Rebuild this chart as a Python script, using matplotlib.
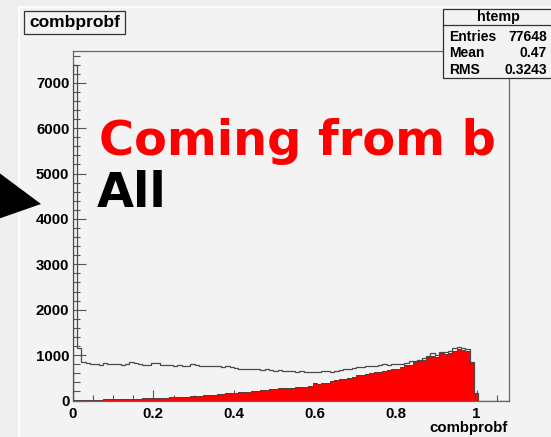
import matplotlib
matplotlib.use("Agg")
import matplotlib.pyplot as plt
from matplotlib.patches import Rectangle, Polygon
from matplotlib.lines import Line2D
import numpy as np

# ---- data ----
n_bins = 100
x_range = (0.0, 1.08)

all_counts = [7390, 1150, 840, 830, 815, 800, 790, 825, 800, 795,
              795, 790, 800, 855, 830, 800, 785, 790, 830, 820,
              790, 785, 780, 770, 775, 765, 770, 805, 790, 770,
              765, 770, 760, 750, 745, 750, 730, 715, 705, 700,
              695, 700, 690, 680, 685, 670, 660, 665, 650, 640,
              650, 630, 640, 625, 630, 620, 625, 650, 640, 630,
              655, 670, 690, 700, 720, 745, 740, 760, 750, 770,
              790, 800, 790, 810, 800, 815, 830, 880, 870, 900,
              930, 980, 1040, 1010, 1075, 1060, 1080, 1160, 1185, 1150,
              1130, 840, 170, 0, 0, 0, 0, 0, 0, 0]

b_counts = [5, 15, 15, 18, 20, 20, 22, 25, 25, 28,
            30, 30, 32, 38, 40, 42, 45, 48, 50, 55,
            60, 62, 68, 72, 75, 80, 85, 95, 100, 110,
            115, 120, 125, 135, 150, 160, 158, 170, 185, 190,
            195, 200, 215, 225, 235, 245, 255, 265, 270, 280,
            285, 295, 300, 305, 330, 375, 370, 380, 395, 420,
            450, 470, 465, 490, 520, 560, 555, 575, 600, 630,
            625, 650, 680, 690, 700, 740, 780, 790, 840, 880,
            900, 950, 990, 960, 1040, 1030, 1050, 1100, 1130, 1120,
            1080, 830, 165, 0, 0, 0, 0, 0, 0, 0]

x_ticks = [0, 0.2, 0.4, 0.6, 0.8, 1]
x_tick_labels = ["0", "0.2", "0.4", "0.6", "0.8", "1"]
y_ticks = [0, 1000, 2000, 3000, 4000, 5000, 6000, 7000]
y_tick_labels = ["0", "1000", "2000", "3000", "4000", "5000", "6000", "7000"]

stats_rows = [("Entries", "77648"), ("Mean", "0.47"), ("RMS", "0.3243")]

# ---- figure ----
W, H = 551, 437
fig = plt.figure(figsize=(W / 100, H / 100), dpi=100)
fig.patch.set_facecolor("#eeeeee")
BG = "#f3f3f3"
FONT = "Liberation Sans"


def fx(x):
    return x / W


def fy(y):
    return 1 - y / H


# canvas region
fig.patches.append(Rectangle((fx(19), 0), 1 - fx(19), fy(6.7), transform=fig.transFigure,
                             facecolor=BG, edgecolor="none", zorder=-2))
fig.lines.append(Line2D([fx(19), fx(19)], [0, fy(6.7)], transform=fig.transFigure,
                        color="white", lw=1.2, zorder=-1))
fig.lines.append(Line2D([fx(19), 1], [fy(6.7), fy(6.7)], transform=fig.transFigure,
                        color="white", lw=1.2, zorder=-1))

left, right, top, bottom = 72.5, 509, 51, 400.5
ax = fig.add_axes([fx(left), fy(bottom), fx(right - left), (bottom - top) / H])
ax.set_facecolor(BG)

edges = np.linspace(x_range[0], x_range[1], n_bins + 1)
ax.stairs(b_counts, edges, fill=True, color="#ff0000", zorder=2)
ax.stairs(b_counts, edges, color="#5a3a3a", lw=0.7, zorder=2.5)
ax.stairs(all_counts, edges, color="#4a4a4a", lw=0.9, zorder=3)

ax.set_xlim(x_range)
ax.set_ylim(0, 7700)

ax.set_xticks(x_ticks)
ax.set_xticklabels(x_tick_labels)
ax.set_yticks(y_ticks)
ax.set_yticklabels(y_tick_labels)
ax.set_xticks(np.arange(0, 1.08, 0.05), minor=True)
ax.set_yticks(np.arange(0, 7700, 200), minor=True)

for lab in ax.get_xticklabels() + ax.get_yticklabels():
    lab.set_fontfamily(FONT)
    lab.set_fontweight("bold")
    lab.set_fontsize(10.8)

ax.tick_params(axis="x", which="major", direction="in", length=8, width=0.8,
               color="#555555", pad=4.5)
ax.tick_params(axis="x", which="minor", direction="in", length=4.5, width=0.8,
               color="#555555")
ax.tick_params(axis="y", which="major", direction="in", length=9.5, width=0.8,
               color="#555555", pad=2.2)
ax.tick_params(axis="y", which="minor", direction="in", length=4.8, width=0.8,
               color="#555555")
ax.tick_params(top=False, right=False)

for s in ax.spines.values():
    s.set_color("#666666")
    s.set_linewidth(0.9)

# big overlay texts
fig.text(fx(99), fy(155), "Coming from b", color="#ff0000", fontsize=34.5,
         fontweight="bold", family="DejaVu Sans", ha="left", va="baseline")
fig.text(fx(97), fy(207), "All", color="black", fontsize=34.5,
         fontweight="bold", family="DejaVu Sans", ha="left", va="baseline")

# x axis title
fig.text(fx(508), fy(428), "combprobf", fontsize=10.8, fontweight="bold",
         family=FONT, ha="right", va="center")

# title box
fig.patches.append(Rectangle((fx(23.5), fy(34)), fx(125.4 - 23.5), (34 - 10.5) / H,
                             transform=fig.transFigure, facecolor=BG,
                             edgecolor="#333333", lw=0.9, zorder=4))
fig.text(fx(74.5), fy(22.5), "combprobf", fontsize=12.5, fontweight="bold",
         family=FONT, ha="center", va="center", zorder=5)

# stats box
bx0, bx1, by0, by1 = 443, 553, 9.3, 78
fig.patches.append(Rectangle((fx(bx0), fy(by1)), fx(bx1 - bx0), (by1 - by0) / H,
                             transform=fig.transFigure, facecolor=BG,
                             edgecolor="#333333", lw=0.9, zorder=4))
fig.lines.append(Line2D([fx(bx0), fx(bx1)], [fy(25), fy(25)], transform=fig.transFigure,
                        color="#333333", lw=0.9, zorder=4.5))
fig.text(fx(498), fy(17), "htemp", fontsize=10.3, fontweight="bold",
         family=FONT, ha="center", va="center", zorder=5)
row_y = [36.7, 53.3, 70]
for (name, val), yy in zip(stats_rows, row_y):
    fig.text(fx(449), fy(yy), name, fontsize=10, fontweight="bold",
             family=FONT, ha="left", va="center", zorder=5)
    fig.text(fx(547), fy(yy), val, fontsize=10, fontweight="bold",
             family=FONT, ha="right", va="center", zorder=5)

# black pointer triangle at the left
fig.patches.append(Polygon([(fx(-2), fy(172)), (fx(41), fy(204)), (fx(-2), fy(219))],
                           closed=True, transform=fig.transFigure,
                           facecolor="black", edgecolor="none", zorder=6))

fig.savefig("out.png", dpi=100, facecolor=fig.get_facecolor())
